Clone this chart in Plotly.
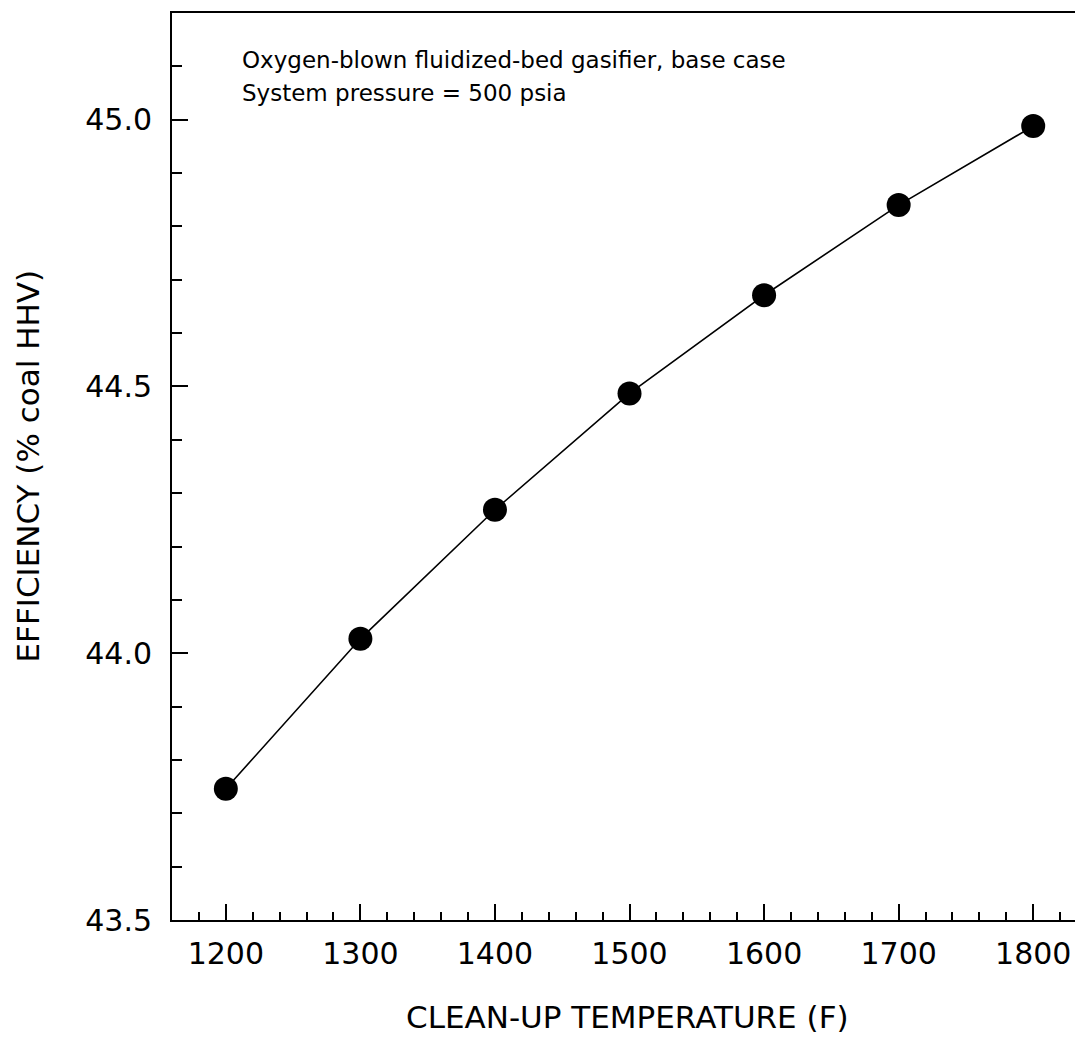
import plotly.graph_objects as go

temps = [1200, 1300, 1400, 1500, 1600, 1700, 1800]
efficiency = [43.746, 44.027, 44.269, 44.487, 44.671, 44.840, 44.988]

x_ticks = [1200, 1300, 1400, 1500, 1600, 1700, 1800]
y_ticks = [43.5, 44.0, 44.5, 45.0]
note_lines = ["Oxygen-blown fluidized-bed gasifier, base case", "System pressure = 500 psia"]
x_title = "CLEAN-UP TEMPERATURE (F)"
y_title = "EFFICIENCY (% coal HHV)"

FONT = "DejaVu Sans"

fig = go.Figure()
fig.add_trace(go.Scatter(
    x=temps, y=efficiency, mode="lines+markers",
    line=dict(color="black", width=1.6),
    marker=dict(color="black", size=24),
    showlegend=False,
))

fig.update_layout(
    width=1075, height=1030,
    margin=dict(l=164, r=0, t=5, b=118),
    paper_bgcolor="white", plot_bgcolor="white",
    font=dict(family=FONT, color="black"),
)
fig.update_xaxes(
    range=[1160, 1837], tickvals=x_ticks, ticktext=[str(v) for v in x_ticks],
    ticks="inside", ticklen=16, tickwidth=1.5, tickcolor="black",
    minor=dict(dtick=20, tick0=1200, ticks="inside", ticklen=8, tickwidth=1.5, tickcolor="black"),
    showline=True, linecolor="black", linewidth=2, mirror=True,
    showgrid=False, zeroline=False,
    tickfont=dict(size=30, family=FONT, color="black"),
    ticklabelstandoff=6,
)
fig.update_yaxes(
    range=[43.5, 45.2], tickvals=y_ticks, ticktext=[f"{v:.1f}" for v in y_ticks],
    ticks="inside", ticklen=16, tickwidth=1.5, tickcolor="black",
    minor=dict(dtick=0.1, tick0=43.5, ticks="inside", ticklen=10, tickwidth=1.5, tickcolor="black"),
    showline=True, linecolor="black", linewidth=2,
    showgrid=False, zeroline=False,
    tickfont=dict(size=30, family=FONT, color="black"),
    ticklabelstandoff=12,
)

fig.add_annotation(text=note_lines[0], xref="x", yref="y", x=1210.5, y=45.1126,
                   xanchor="left", yanchor="middle", showarrow=False,
                   font=dict(size=23, family=FONT, color="black"))
fig.add_annotation(text=note_lines[1], xref="x", yref="y", x=1210.5, y=45.050,
                   xanchor="left", yanchor="middle", showarrow=False,
                   font=dict(size=23, family=FONT, color="black"))
fig.add_annotation(text=x_title, xref="paper", yref="paper", x=0.5, y=0,
                   xanchor="center", yanchor="middle", yshift=-97, showarrow=False,
                   font=dict(size=31, family=FONT, color="black"))
fig.add_annotation(text=y_title, xref="paper", yref="paper", x=0, y=0.5,
                   xanchor="center", yanchor="middle", xshift=-145, textangle=-90,
                   showarrow=False, font=dict(size=31, family=FONT, color="black"))

fig.write_html("out.html")
